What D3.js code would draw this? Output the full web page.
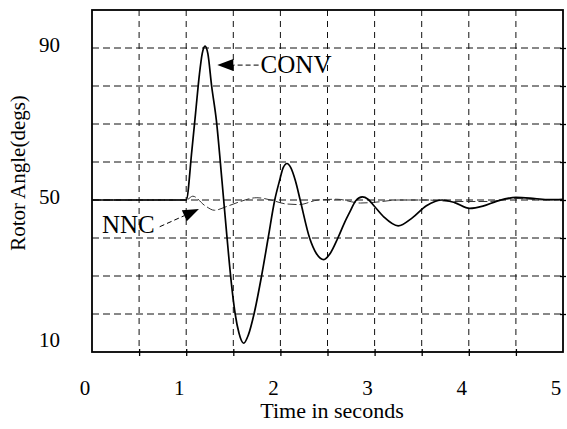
<!DOCTYPE html>
<html>
<head>
<meta charset="utf-8">
<script src="https://cdn.jsdelivr.net/npm/d3@7"></script>
<style>
  html, body { margin: 0; padding: 0; background: #fff; }
  svg { display: block; }
  text { font-family: "Liberation Serif", "Times New Roman", serif; fill: #000; }
</style>
</head>
<body>
<svg id="chart" width="567" height="429"></svg>
<script>
// Tick labels
const timeTicks = [0, 1, 2, 3, 4, 5];
const angleTicks = [10, 50, 90];

// Conventional controller response (time s, rotor angle deg)
const convTime  = [0, 1.0, 1.06, 1.10, 1.14, 1.17, 1.20, 1.23, 1.27, 1.32, 1.38, 1.43, 1.48, 1.52, 1.56, 1.61, 1.66, 1.72, 1.80, 1.87, 1.94, 1.99, 2.03, 2.07, 2.11, 2.16, 2.21, 2.31, 2.38, 2.46, 2.53, 2.61, 2.68, 2.74, 2.80, 2.87, 2.93, 3.00, 3.10, 3.25, 3.40, 3.55, 3.72, 3.85, 4.01, 4.15, 4.30, 4.50, 4.70, 4.85, 5.0];
const convAngle = [50, 50, 63, 73, 83, 88.5, 90.5, 88.5, 80, 71, 55, 41, 28, 20, 15, 12.3, 14.5, 20, 30, 40, 50, 55, 58.5, 59.6, 58.5, 55, 50, 40, 36, 34.3, 36, 40, 44, 47, 49.8, 50.8, 50.2, 48.3, 45.5, 43.2, 45.3, 48.5, 50, 49.3, 47.8, 48.4, 49.7, 50.7, 50.4, 50.1, 50.2];

// Neural network controller response
const nncTime  = [0, 1.0, 1.07, 1.20, 1.30, 1.42, 1.54, 1.75, 1.90, 2.05, 2.20, 2.40, 2.60, 2.85, 3.00, 3.25, 3.55, 3.85, 4.20, 4.50, 4.80, 5.0];
const nncAngle = [50, 50, 51, 48.5, 47.3, 48.2, 49.3, 50.6, 50, 49, 48.8, 50, 50.2, 49.2, 49.4, 50, 50, 49.6, 49.6, 50.4, 50, 50.1];

// Series labels with the point each arrow points at and where the text sits
const labelNames  = ["CONV", "NNC"];
const labelTarget = [[1.33, 85.5], [1.135, 47.6]];
const labelText   = [[1.79, 83.3], [0.105, 41.3]];

const W = 567, H = 429;
const plot = { left: 92, right: 563, top: 10, bottom: 352 };

const x = d3.scaleLinear().domain([0, 5]).range([plot.left, plot.right]);
const y = d3.scaleLinear().domain([10, 100]).range([plot.bottom, plot.top]);

const svg = d3.select("#chart")
  .attr("font-family", "'Liberation Serif', 'Times New Roman', serif");

// Dashed grid
const g = svg.append("g");
g.selectAll("line.vg")
  .data(d3.range(0.5, 5, 0.5))
  .join("line")
  .attr("x1", d => x(d)).attr("x2", d => x(d))
  .attr("y1", plot.top).attr("y2", plot.bottom)
  .attr("stroke", "#111").attr("stroke-width", 1)
  .attr("stroke-dasharray", "6,5");
g.selectAll("line.hg")
  .data(d3.range(20, 100, 10))
  .join("line")
  .attr("x1", plot.left).attr("x2", plot.right)
  .attr("y1", d => y(d)).attr("y2", d => y(d))
  .attr("stroke", "#111").attr("stroke-width", 1)
  .attr("stroke-dasharray", "7,4");

// Small ticks on the bottom and right frame edges
svg.append("g")
  .attr("transform", `translate(0,${plot.bottom})`)
  .call(d3.axisBottom(x).tickValues(d3.range(0.5, 5, 0.5)).tickSize(4).tickFormat(""))
  .call(s => s.select(".domain").remove())
  .call(s => s.selectAll("line").attr("y1", -3).attr("stroke-width", 1.3));
svg.append("g")
  .attr("transform", `translate(${plot.right},0)`)
  .call(d3.axisRight(y).tickValues(d3.range(20, 100, 10)).tickSize(3).tickFormat(""))
  .call(s => s.select(".domain").remove())
  .call(s => s.selectAll("line").attr("x1", -3).attr("stroke-width", 1.3));

// Frame
svg.append("rect")
  .attr("x", plot.left).attr("y", plot.top)
  .attr("width", plot.right - plot.left).attr("height", plot.bottom - plot.top)
  .attr("fill", "none").attr("stroke", "#000").attr("stroke-width", 1.8);

// Curves
const line = d3.line().curve(d3.curveMonotoneX);
svg.append("path")
  .attr("d", line(nncTime.map((t, i) => [x(t), y(nncAngle[i])])))
  .attr("fill", "none").attr("stroke", "#333").attr("stroke-width", 1)
  .attr("stroke-dasharray", "9,3");
svg.append("path")
  .attr("d", line(convTime.map((t, i) => [x(t), y(convAngle[i])])))
  .attr("fill", "none").attr("stroke", "#000").attr("stroke-width", 1.7);

// Axis tick labels (x labels sit a little left of their grid positions)
svg.append("g").selectAll("text")
  .data(timeTicks)
  .join("text")
  .attr("x", d => x(d) - 7)
  .attr("y", plot.bottom + 43)
  .attr("text-anchor", "middle")
  .attr("font-size", 21)
  .text(d => d);
svg.append("g").selectAll("text")
  .data(angleTicks)
  .join("text")
  .attr("x", plot.left - 32)
  .attr("y", d => Math.min(y(d) - 3, plot.bottom - 12))
  .attr("dy", "0.35em")
  .attr("text-anchor", "end")
  .attr("font-size", 21)
  .text(d => d);

// Axis titles
svg.append("text")
  .attr("x", 332).attr("y", 418)
  .attr("text-anchor", "middle")
  .attr("font-size", 22)
  .text("Time in seconds");
svg.append("text")
  .attr("transform", "translate(25,173) rotate(-90)")
  .attr("text-anchor", "middle")
  .attr("font-size", 21)
  .text("Rotor Angle(degs)");

// Series labels with dashed leaders and solid arrowheads
labelNames.forEach((name, i) => {
  const [tx, ty] = labelTarget[i];
  const tip = [x(tx), y(ty)];
  const txt = svg.append("text")
    .attr("x", x(labelText[i][0])).attr("y", y(labelText[i][1]))
    .attr("font-size", 25)
    .text(name);
  const bb = txt.node().getBBox();
  // leader starts at the text edge facing the tip
  const start = i === 0 ? [bb.x - 2, y(ty)] : [bb.x + bb.width + 5, bb.y + bb.height * 0.58];
  const dx = tip[0] - start[0], dy = tip[1] - start[1];
  const len = Math.hypot(dx, dy);
  const ux = dx / len, uy = dy / len;
  const headLen = 16, headHalf = 6;
  const base = [tip[0] - ux * headLen, tip[1] - uy * headLen];
  svg.append("line")
    .attr("x1", start[0]).attr("y1", start[1])
    .attr("x2", base[0]).attr("y2", base[1])
    .attr("stroke", "#000").attr("stroke-width", 1)
    .attr("stroke-dasharray", "5,3");
  svg.append("polygon")
    .attr("points", [
      tip,
      [base[0] - uy * headHalf, base[1] + ux * headHalf],
      [base[0] + uy * headHalf, base[1] - ux * headHalf]
    ].map(p => p.join(",")).join(" "))
    .attr("fill", "#000");
});
</script>
</body>
</html>
